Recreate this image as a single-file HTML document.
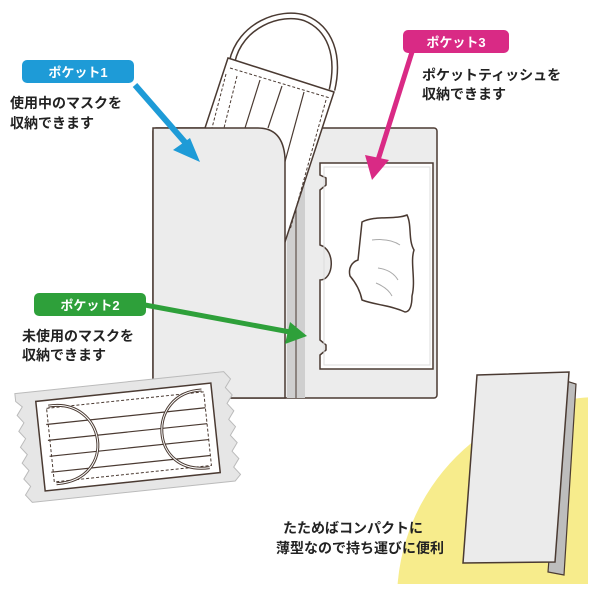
<!DOCTYPE html>
<html><head><meta charset="utf-8"><style>
html,body{margin:0;background:#fff;width:600px;height:600px;overflow:hidden}
svg{display:block}
text{font-family:"Liberation Sans","Noto Sans CJK JP",sans-serif}
</style></head><body>
<svg width="600" height="600" viewBox="0 0 600 600" xmlns="http://www.w3.org/2000/svg">
<defs><clipPath id="c"><rect x="0" y="0" width="588" height="584"/></clipPath></defs>
<circle cx="600" cy="600" r="203" fill="#f7ec8c" clip-path="url(#c)"/>
<!-- open case -->
<rect x="153" y="128" width="284" height="270" rx="3" fill="#ececec" stroke="#4a3a32" stroke-width="1.5"/>
<rect x="287" y="160" width="18" height="238" fill="#cfcfcf"/>
<line x1="296" y1="200" x2="296" y2="398" stroke="#4a3a32" stroke-width="1"/>
<path d="M320 163 H433 V369 H320 V355 L326 350 V345 L320 340 V280 C334 280 336 250 320 245 V190 L326 185 V178 L320 175 Z" fill="#fff" stroke="#4a3a32" stroke-width="1.5"/>
<rect x="324" y="167" width="106" height="198" fill="none" stroke="#ddd" stroke-width="1"/>
<!-- tissue -->
<path d="M362 222 C375 215 395 220 407 215 C412 225 408 240 414 250 C410 262 416 280 412 296 C412 305 410 312 405 312 C390 305 375 305 362 300 C360 290 356 283 350 276 C348 268 352 262 358 260 Z" fill="#fff" stroke="#4a3a32" stroke-width="1.5"/>
<path d="M372 240 Q390 238 400 245 M378 268 Q392 270 398 280 M376 283 Q388 288 392 296" fill="none" stroke="#aaa" stroke-width="1"/>
<!-- mask on top -->
<path d="M232 62 C240 25 280 10 305 18 C330 28 340 55 332 90" fill="none" stroke="#4a3a32" stroke-width="7"/>
<path d="M232 62 C240 25 280 10 305 18 C330 28 340 55 332 90" fill="none" stroke="#fff" stroke-width="4"/>
<path d="M228 58 L334 92 L284 245 L262 240 L205 128 Z" fill="#fff" stroke="#4a3a32" stroke-width="1.5"/>
<path d="M230 68 L330 98 M226 74 L212 128 M237 76 L224 128 M326 100 L290 230" fill="none" stroke="#4a3a32" stroke-width="1" stroke-dasharray="3,2"/>
<path d="M260 80 L245 128 M282 86 L268 128 M304 92 L280 180" stroke="#4a3a32" stroke-width="1.2"/>
<!-- front flap -->
<path d="M153 128 H258 Q283 128 285 158 V398 H153 Z" fill="#ececec" stroke="#4a3a32" stroke-width="1.5"/>
<!-- packaged mask -->
<g transform="rotate(-6 128 437)">
<path d="M20 382 L230 382 L236 390 L230 398 L236 406 L230 414 L236 422 L230 430 L236 438 L230 446 L236 454 L230 462 L236 470 L230 478 L236 486 L230 492 L26 492 L20 484 L26 476 L20 468 L26 460 L20 452 L26 444 L20 436 L26 428 L20 420 L26 412 L20 404 L26 396 L20 390 Z" fill="#e6e6e6" stroke="#bbb" stroke-width="1"/>
<rect x="40" y="392" width="176" height="90" fill="#fff" stroke="#4a3a32" stroke-width="1.5"/>
<rect x="50" y="400" width="158" height="74" fill="none" stroke="#4a3a32" stroke-width="1" stroke-dasharray="3,2"/>
<path d="M48 416 H208 M48 432 H208 M48 448 H208 M48 464 H208" stroke="#4a3a32" stroke-width="1.2"/>
<path d="M52 398 C110 395 115 478 52 476" fill="none" stroke="#4a3a32" stroke-width="3"/>
<path d="M52 398 C110 395 115 478 52 476" fill="none" stroke="#fff" stroke-width="1"/>
<path d="M206 398 C150 395 145 478 206 476" fill="none" stroke="#4a3a32" stroke-width="3"/>
<path d="M206 398 C150 395 145 478 206 476" fill="none" stroke="#fff" stroke-width="1"/>
</g>
<!-- folded case -->
<path d="M563 380 L576 384 L564 575 L548 572 Z" fill="#bdbdbd" stroke="#4a3a32" stroke-width="1.2"/>
<path d="M477 375 L569 372 L555 562 L463 563 Z" fill="#ebebeb" stroke="#4a3a32" stroke-width="1.5"/>
<!-- arrows -->
<g stroke-linecap="butt">
<line x1="135" y1="85" x2="190" y2="148" stroke="#1e9bd7" stroke-width="6"/>
<polygon points="200,162 173,150 190,138" fill="#1e9bd7"/>
<line x1="145" y1="305" x2="290" y2="332" stroke="#2ea03a" stroke-width="5"/>
<polygon points="307,336 285,344 290,322" fill="#2ea03a"/>
<line x1="412" y1="52" x2="378" y2="160" stroke="#d92a85" stroke-width="5"/>
<polygon points="372,180 365,155 389,160" fill="#d92a85"/>
</g>
<!-- labels -->
<g font-weight="bold">
<rect x="22" y="60" width="112" height="23" rx="5" fill="#1e9bd7"/>
<text x="78" y="77" fill="#fff" font-size="13" text-anchor="middle">ポケット1</text>
<text x="10" y="108" font-size="14" fill="#222">使用中のマスクを</text>
<text x="10" y="128" font-size="14" fill="#222">収納できます</text>
<rect x="403" y="30" width="106" height="23" rx="5" fill="#d92a85"/>
<text x="456" y="47" fill="#fff" font-size="13" text-anchor="middle">ポケット3</text>
<text x="422" y="80" font-size="14" fill="#222">ポケットティッシュを</text>
<text x="422" y="99" font-size="14" fill="#222">収納できます</text>
<rect x="34" y="293" width="112" height="23" rx="5" fill="#2ea03a"/>
<text x="90" y="310" fill="#fff" font-size="13" text-anchor="middle">ポケット2</text>
<text x="22" y="341" font-size="14" fill="#222">未使用のマスクを</text>
<text x="22" y="360" font-size="14" fill="#222">収納できます</text>
<text x="283" y="533" font-size="14" fill="#222">たためばコンパクトに</text>
<text x="276" y="553" font-size="14" fill="#222">薄型なので持ち運びに便利</text>
</g>
</svg>
</body></html>
